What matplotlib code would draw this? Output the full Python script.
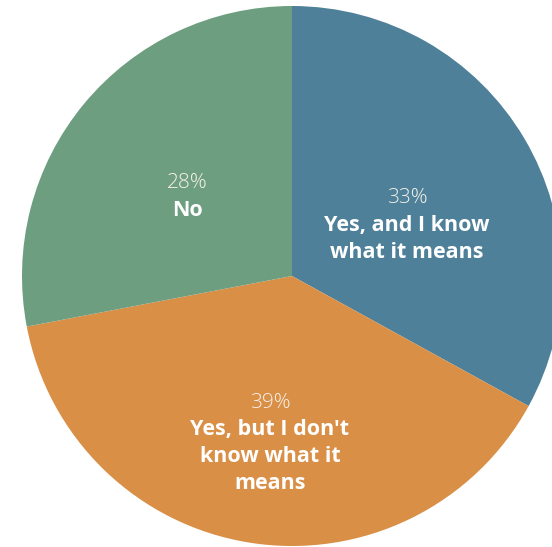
import numpy as np
import matplotlib.pyplot as plt

shares = [33, 39, 28]
pct_labels = ['33%', '39%', '28%']
names = [['Yes, and I know', 'what it means'],
         ["Yes, but I don't", 'know what it', 'means'],
         ['No']]
colors = ['#4e8199', '#d98f45', '#6e9e80']

# centre of each text block, in the same units as the pie radius
label_xy = [(115, 51), (-22, -167), (-105, 79)]

R = 270
LINE = 27

fig = plt.figure(figsize=(5.52, 5.47), dpi=100)
ax = fig.add_axes([0, 0, 1, 1])
ax.pie(shares, colors=colors, startangle=90, counterclock=False,
       radius=R, center=(0, 0), wedgeprops=dict(linewidth=0))
ax.set_xlim(-292, 260)
ax.set_ylim(-271, 276)
ax.set_aspect('equal')
ax.axis('off')

for (cx, cy), pct, lines in zip(label_xy, pct_labels, names):
    n = len(lines) + 1
    top = cy + (n - 1) / 2 * LINE
    ax.text(cx, top, pct, ha='center', va='center', color='#f6f1ea',
            fontsize=15, family='Open Sans', fontweight='light')
    for i, s in enumerate(lines):
        ax.text(cx, top - (i + 1) * LINE, s, ha='center', va='center',
                color='white', fontsize=15.5, family='Open Sans', fontweight='bold')

fig.savefig('out.png', dpi=100)
